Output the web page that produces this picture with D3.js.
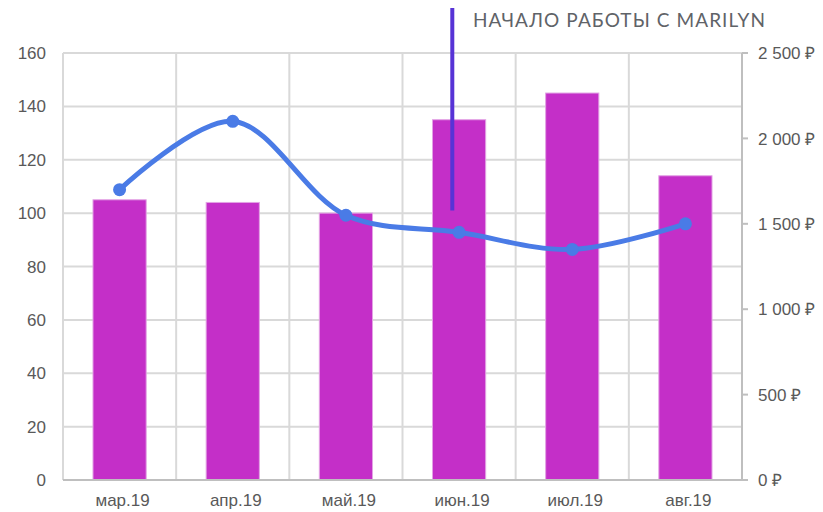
<!DOCTYPE html>
<html><head><meta charset="utf-8">
<script src="https://cdn.jsdelivr.net/npm/d3@7"></script>
<style>body{margin:0;background:#fff}</style>
</head><body>
<svg id="c" width="823" height="512"></svg>
<script>
const categories = ["мар.19","апр.19","май.19","июн.19","июл.19","авг.19"];
const barValues = [105,104,100,135,145,114];
const lineValues = [1700,2100,1550,1450,1350,1500];
const leftTicks = [0,20,40,60,80,100,120,140,160];
const rightTicks = [0,500,1000,1500,2000,2500];
const annotationText = "НАЧАЛО РАБОТЫ С MARILYN";
const annotationCategory = "июн.19";

const svg = d3.select("#c");
const L = 63, R = 742, T = 53, B = 480;
const x = d3.scaleBand().domain(categories).range([L,R]).padding(0);
const yL = d3.scaleLinear().domain([0,160]).range([B,T]);
const yR = d3.scaleLinear().domain([0,2500]).range([B,T]);
const grid = "#d9d9d9", axisC = "#bfbfbf", txt = "#595959";
const font = "'Liberation Sans', Arial, sans-serif";

// horizontal gridlines
svg.append("g").selectAll("line").data(leftTicks.filter(d=>d>0)).join("line")
  .attr("x1",L).attr("x2",R).attr("y1",d=>yL(d)).attr("y2",d=>yL(d))
  .attr("stroke",grid).attr("stroke-width",2);
// vertical gridlines
svg.append("g").selectAll("line").data(categories).join("line")
  .attr("x1",d=>x(d)).attr("x2",d=>x(d)).attr("y1",T).attr("y2",B)
  .attr("stroke",grid).attr("stroke-width",2);

// bars
const bw = x.bandwidth()*0.47;
svg.append("g").selectAll("rect").data(categories).join("rect")
  .attr("x",d=>x(d)+x.bandwidth()/2-bw/2).attr("width",bw)
  .attr("y",(d,i)=>yL(barValues[i])).attr("height",(d,i)=>B-yL(barValues[i]))
  .attr("fill","#c42fc8").attr("stroke","#e2a3e4").attr("stroke-width",1);

// axes lines
svg.append("line").attr("x1",L).attr("x2",R+1).attr("y1",B).attr("y2",B).attr("stroke",axisC).attr("stroke-width",2);
svg.append("line").attr("x1",R).attr("x2",R).attr("y1",T).attr("y2",B).attr("stroke",axisC).attr("stroke-width",2);
svg.append("g").selectAll("line").data(rightTicks).join("line")
  .attr("x1",R).attr("x2",R+6).attr("y1",d=>yR(d)).attr("y2",d=>yR(d))
  .attr("stroke",axisC).attr("stroke-width",2);

// left labels
svg.append("g").selectAll("text").data(leftTicks).join("text")
  .attr("x",46).attr("y",d=>yL(d)).attr("dy","0.36em").attr("text-anchor","end")
  .attr("font-family",font).attr("font-size",17).attr("fill",txt).text(d=>d);
// right labels
const fmt = d => (d>=1000 ? Math.floor(d/1000)+" "+String(d%1000).padStart(3,"0") : String(d)) + " ₽";
svg.append("g").selectAll("text").data(rightTicks).join("text")
  .attr("x",758).attr("y",d=>yR(d)).attr("dy","0.36em").attr("text-anchor","start")
  .attr("font-family",font).attr("font-size",17).attr("fill",txt).text(fmt);
// x labels
svg.append("g").selectAll("text").data(categories).join("text")
  .attr("x",d=>x(d)+x.bandwidth()/2+3).attr("y",506).attr("text-anchor","middle")
  .attr("font-family",font).attr("font-size",17).attr("fill",txt).text(d=>d);

// line
const pts = categories.map((c,i)=>[x(c)+x.bandwidth()/2, yR(lineValues[i])]);
svg.append("path").datum(pts)
  .attr("d",d3.line().curve(d3.curveCatmullRom.alpha(0.5)))
  .attr("fill","none").attr("stroke","#4a7be6").attr("stroke-width",5).attr("stroke-linecap","round");
svg.append("g").selectAll("circle").data(pts).join("circle")
  .attr("cx",d=>d[0]).attr("cy",d=>d[1]).attr("r",6.5).attr("fill","#4a7be6");

// annotation
const ax = x(annotationCategory)+x.bandwidth()*0.44;
svg.append("line").attr("x1",ax).attr("x2",ax).attr("y1",8).attr("y2",yL(101))
  .attr("stroke","#5733d6").attr("stroke-width",4);
svg.append("text").attr("x",473).attr("y",27).attr("font-family","Lato, 'Open Sans', sans-serif")
  .attr("font-size",19).attr("fill","#5f6368").attr("textLength",292).attr("lengthAdjust","spacing")
  .text(annotationText);
</script>
</body></html>
